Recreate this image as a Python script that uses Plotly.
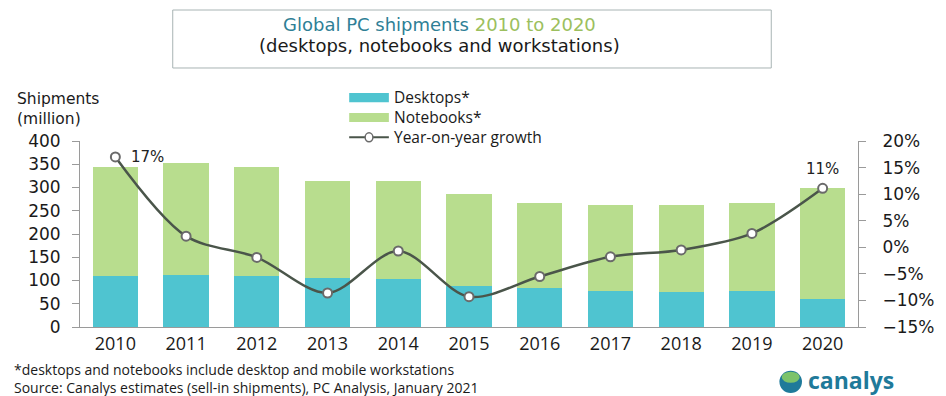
import plotly.graph_objects as go

# Global PC shipments (million units) and year-on-year growth (%)
years = ["2010", "2011", "2012", "2013", "2014", "2015", "2016", "2017", "2018", "2019", "2020"]
desktops = [110, 112, 110, 105, 104, 89, 84, 78, 75, 78, 60]
notebooks = [235, 240, 235, 210, 209, 196, 183, 184, 187, 189, 238]
growth = [17.0, 2.1, -1.9, -8.6, -0.7, -9.3, -5.5, -1.8, -0.5, 2.6, 11.1]
labelled_years = ["2010", "2020"]
series_names = ["Desktops*", "Notebooks*", "Year-on-year growth"]

DESK = "#4FC4D0"
NOTE = "#B8DD8E"
LINE = "#4a554a"
AXIS = "#9a9a9a"
TEXT_FONT = "Open Sans"
NUM_FONT = "DejaVu Sans"

fig = go.Figure()
fig.add_trace(go.Bar(x=years, y=desktops, name=series_names[0], marker=dict(color=DESK, line_width=0)))
fig.add_trace(go.Bar(x=years, y=notebooks, name=series_names[1], marker=dict(color=NOTE, line_width=0)))
fig.add_trace(go.Scatter(
    x=years, y=growth, name=series_names[2], yaxis="y2",
    mode="lines+markers",
    line=dict(color=LINE, width=2.5, shape="spline", smoothing=0.9),
    marker=dict(symbol="circle", size=9, color="white", line=dict(color="#6a6a6a", width=2)),
))

annotations = []
for i, (yr, g) in enumerate(zip(years, growth)):
    if yr in labelled_years:
        first = i == 0
        annotations.append(dict(
            x=i, y=g, xref="x", yref="y2", text=f"{round(g)}%", showarrow=False,
            xanchor="left" if first else "center", yanchor="middle" if first else "bottom",
            xshift=14 if first else 0, yshift=0 if first else 8,
            font=dict(family=NUM_FONT, size=15, color="#222222"),
        ))


def note(x, y, text, size, family=TEXT_FONT, color="#1a1a1a", xanchor="left", align="left"):
    return dict(x=x, y=y, xref="paper", yref="paper", showarrow=False,
                xanchor=xanchor, yanchor="middle", align=align, text=text,
                font=dict(family=family, size=size, color=color))


annotations += [
    # Title box text
    note(0.462, 1.624,
         "<span style='color:#2f7f96'>Global PC shipments</span> <span style='color:#9cbf5e'>2010 to 2020</span>",
         18, family=NUM_FONT, xanchor="center", align="center"),
    note(0.462, 1.511, "(desktops, notebooks and workstations)", 18, family=NUM_FONT,
         xanchor="center", align="center"),
    # Axis title
    note(-0.084, 1.17, "Shipments<br>(million)", 15.5, family=NUM_FONT),
    # Custom legend labels
    note(0.401, 1.128, "<br>".join(series_names), 15.5),
    # Footnotes
    note(-0.088, -0.275,
         "*desktops and notebooks include desktop and mobile workstations<br>"
         "Source: Canalys estimates (sell-in shipments), PC Analysis, January 2021", 14),
    # Logo wordmark
    note(0.933, -0.285, "<b>canalys</b>", 23, color="#1f7a9a"),
]

shapes = [
    # Title box
    dict(type="rect", xref="paper", yref="paper", x0=0.1192, x1=0.8885, y0=1.3925, y1=1.7043,
         line=dict(color="#a8b4b4", width=1), fillcolor="rgba(0,0,0,0)"),
    # Legend swatches
    dict(type="rect", xref="paper", yref="paper", x0=0.346, x1=0.397, y0=1.209, y1=1.258,
         line_width=0, fillcolor=DESK),
    dict(type="rect", xref="paper", yref="paper", x0=0.346, x1=0.397, y0=1.102, y1=1.151,
         line_width=0, fillcolor=NOTE),
    dict(type="line", xref="paper", yref="paper", x0=0.346, x1=0.397, y0=1.02, y1=1.02,
         line=dict(color=LINE, width=2)),
    dict(type="circle", xref="paper", yref="paper", x0=0.3665, x1=0.3765, y0=0.996, y1=1.044,
         line=dict(color="#6a6a6a", width=1.5), fillcolor="white"),
    # Logo globe
    dict(type="circle", xref="paper", yref="paper", x0=0.899, x1=0.928, y0=-0.355, y1=-0.235,
         line_width=0, fillcolor="#1f7a9a"),
    dict(type="circle", xref="paper", yref="paper", x0=0.902, x1=0.925, y0=-0.30, y1=-0.24,
         line_width=0, fillcolor="#7cc36a"),
]

fig.update_layout(
    width=946, height=396,
    margin=dict(l=80, r=86, t=141, b=69),
    paper_bgcolor="white", plot_bgcolor="white",
    barmode="stack", bargap=0.36,
    showlegend=False,
    xaxis=dict(
        type="category", range=[-0.5, len(years) - 0.5], showgrid=False,
        showline=True, linecolor=AXIS, linewidth=1,
        ticks="", tickfont=dict(family=TEXT_FONT, size=18, color="#1a1a1a"),
    ),
    yaxis=dict(
        range=[0, 400], dtick=50, showgrid=False, zeroline=False,
        showline=True, linecolor=AXIS, linewidth=1, ticks="outside", ticklen=7, tickcolor=AXIS,
        ticklabelstandoff=8,
        tickfont=dict(family=NUM_FONT, size=17, color="#1a1a1a"),
    ),
    yaxis2=dict(
        overlaying="y", side="right", range=[-15, 20], dtick=5, ticksuffix="%",
        showgrid=False, zeroline=False,
        showline=True, linecolor=AXIS, linewidth=1, ticks="outside", ticklen=7, tickcolor=AXIS,
        ticklabelstandoff=13,
        tickfont=dict(family=NUM_FONT, size=17, color="#1a1a1a"),
    ),
    annotations=annotations,
    shapes=shapes,
)

fig.write_html("out.html")
